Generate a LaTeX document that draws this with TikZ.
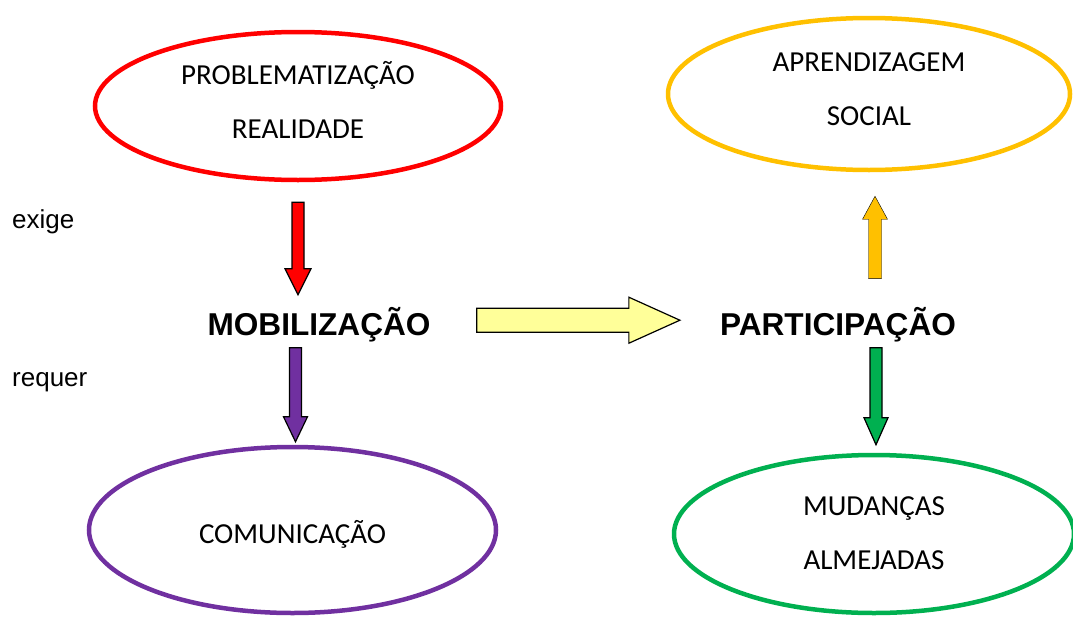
\documentclass[tikz,border=0pt]{standalone}
\usepackage{fontspec}
\setmainfont{Liberation Sans}
\newfontfamily\calfont{Carlito}
\usetikzlibrary{shapes.geometric,calc}

\definecolor{probred}{HTML}{FF0000}
\definecolor{socgold}{HTML}{FFC000}
\definecolor{compurple}{HTML}{7030A0}
\definecolor{chggreen}{HTML}{00B050}
\definecolor{paleyellow}{HTML}{FFFF99}

% block arrow: [style]{from}{to}{half shaft}{half head}{head length}
\newcommand{\blockarrow}[6][]{%
  \coordinate (hb) at ($(#3)!#6!(#2)$);
  \draw[#1] ($(#2)!#4!90:(#3)$) -- ($(hb)!#4!90:(#3)$) -- ($(hb)!#5!90:(#3)$) -- (#3)
    -- ($(hb)!#5!-90:(#3)$) -- ($(hb)!#4!-90:(#3)$) -- ($(#2)!#4!-90:(#3)$) -- cycle;
}

\begin{document}
\begin{tikzpicture}[x=1pt,y=-1pt,
    bubble/.style={ellipse, draw=#1, line width=4.5pt, inner sep=0pt, align=center,
      font=\calfont\fontsize{29}{54}\selectfont},
    keyword/.style={font=\bfseries\fontsize{31.6}{37}\selectfont, inner sep=0pt, anchor=base},
    side/.style={font=\fontsize{26}{31}\selectfont, inner sep=0pt, anchor=base west},
    outlined/.style={draw=black, line width=1.2pt, fill=#1, line join=miter}]
    \useasboundingbox (0,0) rectangle (1073,616);

    % ellipses
    \node[bubble=probred, minimum width=406pt, minimum height=148pt, text height=84pt, text depth=20pt]
      (prob) at (298,106) {PROBLEMATIZAÇÃO\\REALIDADE};
    \node[bubble=socgold, minimum width=402pt, minimum height=152pt, text height=82pt, text depth=20pt]
      (soc) at (869,94) {APRENDIZAGEM\\SOCIAL};
    \node[bubble=compurple, minimum width=407pt, minimum height=166pt, text height=30pt, text depth=4pt]
      (comm) at (292.5,530) {COMUNICAÇÃO};
    \node[bubble=chggreen, minimum width=400pt, minimum height=158pt, text height=90pt, text depth=20pt]
      (chg) at (874,534) {MUDANÇAS\\ALMEJADAS};

    % key words
    \node[keyword] (mob) at (319,335) {MOBILIZAÇÃO};
    \node[keyword] (part) at (838,335) {PARTICIPAÇÃO};
    \node[side] (exige) at (12,228) {exige};
    \node[side] (requer) at (12,386) {requer};

    % arrow ends
    \coordinate (r1) at ([yshift=-20pt]prob.south);
    \coordinate (r2) at ([yshift=12pt]prob.south |- mob.north);
    \coordinate (p1) at ([xshift=3pt,yshift=-6pt]mob.south -| comm.north);
    \coordinate (p2) at ([xshift=3pt,yshift=3pt]comm.north);
    \coordinate (g1) at ([xshift=2pt,yshift=-6pt]part.south -| chg.north);
    \coordinate (g2) at ([xshift=2pt,yshift=8pt]chg.north);
    \coordinate (o1) at ([xshift=6pt,yshift=28pt]part.north -| soc.south);
    \coordinate (o2) at ([xshift=6pt,yshift=-24pt]soc.south);
    \coordinate (y1) at ([shift={(46pt,4pt)}]mob.east);
    \coordinate (y2) at ([shift={(-40pt,4pt)}]part.west);

    \blockarrow[outlined=probred]{r1}{r2}{6pt}{13pt}{26pt}
    \blockarrow[outlined=compurple]{p1}{p2}{6pt}{12pt}{25pt}
    \blockarrow[outlined=chggreen]{g1}{g2}{6pt}{12pt}{27pt}
    \blockarrow[fill=socgold]{o1}{o2}{6.5pt}{12.5pt}{23pt}
    \blockarrow[outlined=paleyellow]{y1}{y2}{12pt}{23pt}{51pt}
\end{tikzpicture}
\end{document}
